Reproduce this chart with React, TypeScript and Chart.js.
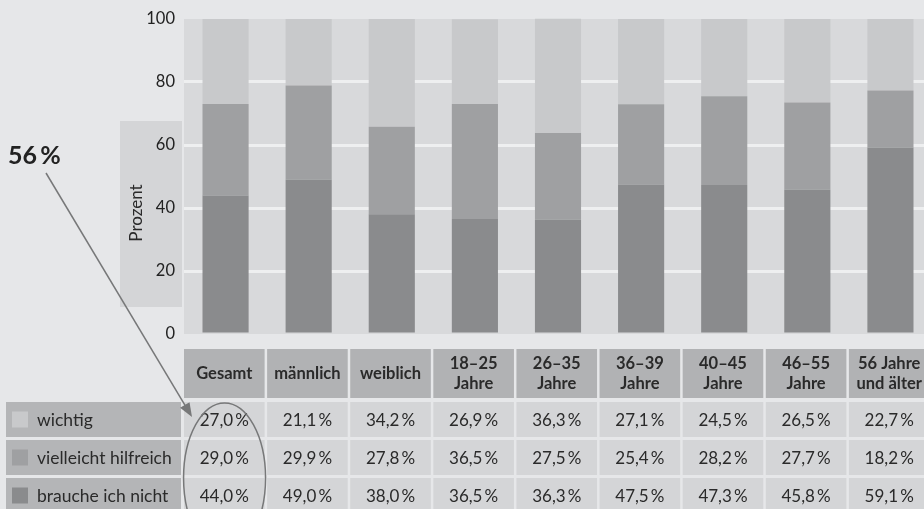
import React, { useEffect, useRef } from 'react';
import { Chart, registerables } from 'chart.js';

Chart.register(...registerables);

// ---- data ----
const categories: string[][] = [
  ['Gesamt'],
  ['männlich'],
  ['weiblich'],
  ['18–25', 'Jahre'],
  ['26–35', 'Jahre'],
  ['36–39', 'Jahre'],
  ['40–45', 'Jahre'],
  ['46–55', 'Jahre'],
  ['56 Jahre', 'und älter'],
];
const wichtig = [27.0, 21.1, 34.2, 26.9, 36.3, 27.1, 24.5, 26.5, 22.7];
const vielleichtHilfreich = [29.0, 29.9, 27.8, 36.5, 27.5, 25.4, 28.2, 27.7, 18.2];
const braucheIchNicht = [44.0, 49.0, 38.0, 36.5, 36.3, 47.5, 47.3, 45.8, 59.1];
const seriesNames = ['wichtig', 'vielleicht hilfreich', 'brauche ich nicht'];
const yTickValues = [0, 20, 40, 60, 80, 100];
const axisTitle = 'Prozent';
const calloutText = '56\u2009%';

const FONT = 'Lato, "Open Sans", "DejaVu Sans", sans-serif';
const COLORS = { wichtig: '#c8c9cb', vielleicht: '#9fa0a2', brauche: '#8a8b8d' };

const fmt = (v: number) => v.toFixed(1).replace('.', ',') + '\u2009%';

const decorPlugin = {
  id: 'decor',
  beforeDraw(chart: any) {
    const { ctx, chartArea: a } = chart;
    ctx.save();
    ctx.fillStyle = '#e6e7e9';
    ctx.fillRect(0, 0, chart.width, chart.height);
    ctx.fillStyle = '#d8d9db';
    ctx.fillRect(a.left, a.top, a.right - a.left, a.bottom - a.top);
    // axis title box
    ctx.fillStyle = '#d4d5d7';
    ctx.fillRect(a.left - 64, 121, 62, 186);
    ctx.translate(a.left - 47, 213);
    ctx.rotate(-Math.PI / 2);
    ctx.fillStyle = '#2a2a2a';
    ctx.font = `17px ${FONT}`;
    ctx.textAlign = 'center';
    ctx.textBaseline = 'middle';
    ctx.fillText(axisTitle, 0, 0);
    ctx.restore();
  },
  afterDraw(chart: any) {
    const { ctx, chartArea: a } = chart;
    const x = chart.scales.x;
    const pitch = x.getPixelForValue(1) - x.getPixelForValue(0);
    const headerTop = a.bottom + 15;
    const headerH = 49;
    const rowH = 35;
    const rowTop = (r: number) => headerTop + 53 + r * 38;
    const rows = [
      { name: seriesNames[0], values: wichtig, color: COLORS.wichtig },
      { name: seriesNames[1], values: vielleichtHilfreich, color: COLORS.vielleicht },
      { name: seriesNames[2], values: braucheIchNicht, color: COLORS.brauche },
    ];
    ctx.save();
    ctx.textAlign = 'center';
    ctx.textBaseline = 'middle';
    categories.forEach((lines, i) => {
      const left = x.getPixelForValue(i) - pitch / 2;
      const w = pitch - 2.5;
      const cx = left + w / 2;
      ctx.fillStyle = '#b1b2b4';
      ctx.fillRect(left, headerTop, w, headerH);
      ctx.fillStyle = '#2a2a2a';
      ctx.font = `bold 16.5px ${FONT}`;
      const cy = headerTop + headerH / 2;
      if (lines.length === 1) ctx.fillText(lines[0], cx, cy);
      else {
        ctx.fillText(lines[0], cx, cy - 10);
        ctx.fillText(lines[1], cx, cy + 10);
      }
      rows.forEach((row, r) => {
        const top = rowTop(r);
        ctx.fillStyle = '#d4d5d7';
        ctx.fillRect(left, top, w, rowH);
        ctx.fillStyle = '#2a2a2a';
        ctx.font = `17px ${FONT}`;
        ctx.fillText(fmt(row.values[i]), cx, top + rowH / 2 + 1);
      });
    });
    // row labels
    rows.forEach((row, r) => {
      const top = rowTop(r);
      ctx.fillStyle = '#b4b5b7';
      ctx.fillRect(6, top, a.left - 9, rowH);
      ctx.fillStyle = row.color;
      ctx.fillRect(12, top + rowH / 2 - 8, 16, 16);
      ctx.fillStyle = '#2a2a2a';
      ctx.font = `17.5px ${FONT}`;
      ctx.textAlign = 'left';
      ctx.fillText(row.name, 37, top + rowH / 2 + 1);
      ctx.textAlign = 'center';
    });
    // ellipse around first column
    const ex = x.getPixelForValue(0) - 1;
    ctx.strokeStyle = '#777879';
    ctx.lineWidth = 1.5;
    ctx.beginPath();
    ctx.ellipse(ex, rowTop(0) + 76, 41, 75, 0, 0, Math.PI * 2);
    ctx.stroke();
    // arrow
    const x0 = 46, y0 = 173, x1 = 192, y1 = 417;
    const ang = Math.atan2(y1 - y0, x1 - x0);
    ctx.beginPath();
    ctx.moveTo(x0, y0);
    ctx.lineTo(x1 - 10 * Math.cos(ang), y1 - 10 * Math.sin(ang));
    ctx.stroke();
    ctx.fillStyle = '#777879';
    ctx.beginPath();
    ctx.moveTo(x1, y1);
    ctx.lineTo(x1 - 14 * Math.cos(ang) + 5.5 * Math.sin(ang), y1 - 14 * Math.sin(ang) - 5.5 * Math.cos(ang));
    ctx.lineTo(x1 - 14 * Math.cos(ang) - 5.5 * Math.sin(ang), y1 - 14 * Math.sin(ang) + 5.5 * Math.cos(ang));
    ctx.closePath();
    ctx.fill();
    // callout
    ctx.fillStyle = '#222';
    ctx.font = `bold 25px ${FONT}`;
    ctx.textAlign = 'left';
    ctx.textBaseline = 'alphabetic';
    ctx.fillText(calloutText, 8, 164);
    ctx.restore();
  },
};

export default function App() {
  const canvasRef = useRef<HTMLCanvasElement | null>(null);
  useEffect(() => {
    if (!canvasRef.current) return;
    const chart = new Chart(canvasRef.current, {
      type: 'bar',
      data: {
        labels: categories,
        datasets: [
          { label: seriesNames[2], data: braucheIchNicht, backgroundColor: COLORS.brauche, clip: false } as any,
          { label: seriesNames[1], data: vielleichtHilfreich, backgroundColor: COLORS.vielleicht, clip: false } as any,
          { label: seriesNames[0], data: wichtig, backgroundColor: COLORS.wichtig, clip: false } as any,
        ],
      },
      options: {
        animation: false,
        responsive: true,
        maintainAspectRatio: false,
        layout: { padding: { left: 0, right: 0, top: 19, bottom: 175 } },
        datasets: { bar: { barPercentage: 0.555, categoryPercentage: 1 } },
        plugins: { legend: { display: false }, tooltip: { enabled: false } },
        scales: {
          x: { stacked: true, display: false, grid: { display: false } },
          y: {
            stacked: true,
            min: 0,
            max: 100,
            afterFit: (s: any) => { s.width = 184; },
            afterBuildTicks: (s: any) => { s.ticks = yTickValues.map((v) => ({ value: v })); },
            border: { display: false },
            grid: {
              drawTicks: false,
              lineWidth: 3,
              color: (c: any) => (c.tick && c.tick.value > 0 && c.tick.value < 100 ? '#eeeff0' : 'rgba(0,0,0,0)'),
            },
            ticks: { padding: 9, color: '#222', font: { family: FONT, size: 16.5 } },
          },
        },
      },
      plugins: [decorPlugin],
    });
    return () => chart.destroy();
  }, []);
  return (
    <div style={{ position: 'absolute', left: 0, top: 0, width: 924, height: 509, overflow: 'hidden', background: '#e6e7e9' }}>
      <div style={{ position: 'relative', width: 932, height: 509 }}>
        <canvas ref={canvasRef} />
      </div>
    </div>
  );
}
